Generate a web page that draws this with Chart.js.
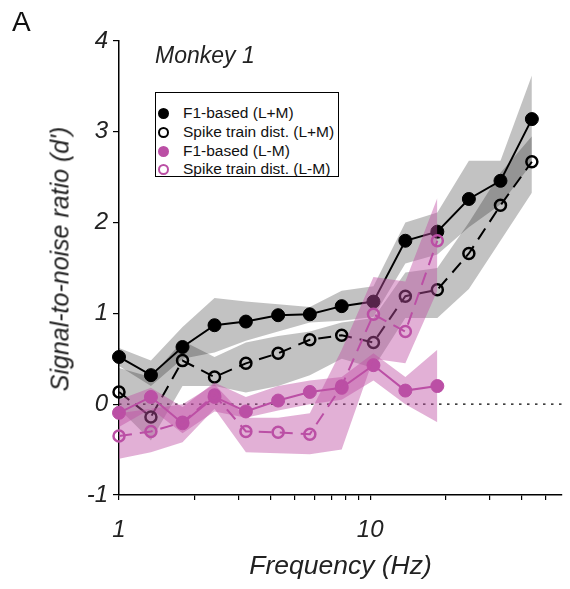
<!DOCTYPE html>
<html>
<head>
<meta charset="utf-8">
<script src="https://cdn.jsdelivr.net/npm/chart.js@4.4.1/dist/chart.umd.min.js"></script>
<style>
  body { margin: 0; background: #fff; }
  #wrap { position: relative; width: 570px; height: 589px; font-family: "Liberation Sans", Arial, sans-serif; color: #222; }
  canvas { position: absolute; left: 0; top: 0; }
  .panel { position: absolute; left: 12px; top: 6px; font-size: 28px; color: #111; }
  .monkey { position: absolute; left: 155px; top: 42px; font-size: 23px; font-style: italic; }
  .ytitle { position: absolute; left: 60px; top: 259px; transform: translate(-50%, -50%) rotate(-90deg);
            font-size: 25px; font-style: italic; white-space: nowrap; }
  #legend { position: absolute; left: 155px; top: 92px; width: 184px; height: 85px; border: 1px solid #000;
            box-sizing: border-box; font-size: 15.5px; padding-top: 11px; background: #fff; }
  #legend div { height: 18.8px; line-height: 18.8px; white-space: nowrap; color: #111; }
  #legend span { display: inline-block; width: 11px; height: 11px; border-radius: 50%; box-sizing: border-box;
                 margin: 0 14px 0 2px; vertical-align: -1px; }
</style>
</head>
<body>
<div id="wrap">
  <canvas id="chart" width="570" height="589"></canvas>
  <div class="panel">A</div>
  <div class="monkey">Monkey 1</div>
  <div class="ytitle">Signal-to-noise ratio (d')</div>
  <div id="legend"></div>
</div>
<script>
// stimulus frequencies (Hz)
const freq = [1, 1.34, 1.79, 2.4, 3.2, 4.3, 5.75, 7.7, 10.3, 13.8, 18.5, 24.7, 33, 44];

// L+M, F1-based
const f1LM   = [0.52, 0.32, 0.63, 0.87, 0.91, 0.98, 0.99, 1.08, 1.13, 1.80, 1.90, 2.26, 2.46, 3.14];
const f1LMHi = [0.62, 0.48, 0.85, 1.17, 1.13, 1.10, 1.07, 1.25, 1.30, 2.00, 2.11, 2.68, 2.68, 3.62];
const f1LMLo = [0.42, 0.20, 0.50, 0.57, 0.70, 0.80, 0.90, 0.92, 0.96, 1.55, 1.65, 1.95, 2.20, 2.65];

// L+M, spike train distance
const stLM   = [0.135, -0.14, 0.48, 0.30, 0.45, 0.56, 0.71, 0.76, 0.68, 1.19, 1.26, 1.66, 2.19, 2.67];
const stLMHi = [0.40, 0.30, 0.70, 0.52, 0.68, 0.75, 0.80, 0.90, 0.95, 1.45, 1.50, 2.00, 2.55, 2.95];
const stLMLo = [-0.05, -0.40, 0.20, 0.20, 0.13, 0.20, 0.32, 0.50, 0.40, 0.95, 0.95, 1.27, 1.80, 2.33];

// L-M, F1-based
const f1LmM   = [-0.095, 0.08, -0.21, 0.08, -0.08, 0.04, 0.135, 0.18, 0.43, 0.15, 0.20];
const f1LmMHi = [0.05, 0.18, -0.03, 0.24, 0.08, 0.20, 0.26, 0.30, 0.56, 0.30, 0.60];
const f1LmMLo = [-0.25, -0.05, -0.32, -0.08, -0.15, -0.07, 0.00, 0.05, 0.26, 0.00, -0.20];

// L-M, spike train distance
const stLmM   = [-0.35, -0.30, -0.20, 0.10, -0.30, -0.31, -0.33, 0.20, 0.99, 0.80, 1.80];
const stLmMHi = [-0.10, -0.05, 0.00, 0.22, -0.15, -0.15, -0.10, 0.60, 1.40, 1.35, 2.27];
const stLmMLo = [-0.60, -0.53, -0.42, -0.05, -0.53, -0.54, -0.55, -0.50, 0.50, 0.45, 1.25];

const xTicks = [1, 2, 3, 4, 5, 6, 7, 8, 9, 10, 20, 30, 40, 50];
const xLabels = [1, 10];
const yTicks = [-1, 0, 1, 2, 3, 4];

const legendItems = [
  { label: 'F1-based (L+M)', color: '#000', filled: true },
  { label: 'Spike train dist. (L+M)', color: '#000', filled: false },
  { label: 'F1-based (L-M)', color: '#bb4fa5', filled: true },
  { label: 'Spike train dist. (L-M)', color: '#bb4fa5', filled: false },
];

const BLACK = '#000';
const PINK = '#bb4fa5';
const GRAY_BAND = 'rgba(0,0,0,0.24)';
const PINK_BAND = 'rgba(190,80,165,0.45)';
const NONE = 'rgba(0,0,0,0)';

function pts(vals) { return vals.map((v, i) => ({ x: freq[i], y: v })); }

function band(hi, lo, color, order) {
  return [
    { data: pts(hi), fill: '+1', backgroundColor: color, borderColor: NONE, borderWidth: 1, pointRadius: 0, order },
    { data: pts(lo), fill: false, borderColor: NONE, borderWidth: 1, pointRadius: 0, order },
  ];
}

function series(vals, color, filled, order) {
  return {
    data: pts(vals), fill: false, order, clip: false,
    borderColor: color, borderWidth: 2, borderDash: filled ? [] : [13, 8],
    pointRadius: filled ? 6.5 : 5.5,
    pointBorderWidth: filled ? 1 : 2.5,
    pointBorderColor: color,
    pointBackgroundColor: filled ? color : NONE,
  };
}

// legend
const lg = document.getElementById('legend');
legendItems.forEach(it => {
  const row = document.createElement('div');
  const dot = document.createElement('span');
  dot.style.border = '2px solid ' + it.color;
  dot.style.background = it.filled ? it.color : 'transparent';
  row.appendChild(dot);
  row.appendChild(document.createTextNode(it.label));
  lg.appendChild(row);
});

const datasets = [
  { data: [{ x: 1, y: 0 }, { x: 58, y: 0 }], borderColor: BLACK, borderWidth: 1.2, borderDash: [2.5, 5.5],
    pointRadius: 0, fill: false, order: 20 },
  ...band(f1LMHi, f1LMLo, GRAY_BAND, 9),
  series(f1LM, BLACK, true, 8),
  ...band(stLMHi, stLMLo, GRAY_BAND, 7),
  series(stLM, BLACK, false, 6),
  ...band(f1LmMHi, f1LmMLo, PINK_BAND, 5),
  series(f1LmM, PINK, true, 4),
  ...band(stLmMHi, stLmMLo, PINK_BAND, 3),
  series(stLmM, PINK, false, 2),
];

new Chart(document.getElementById('chart'), {
  type: 'line',
  data: { datasets },
  options: {
    responsive: false,
    animation: false,
    layout: { padding: { top: 41, right: 0, left: 0, bottom: 0 } },
    plugins: {
      legend: { display: false },
      tooltip: { enabled: false },
      filler: { drawTime: 'beforeDatasetDraw' },
    },
    scales: {
      x: {
        type: 'logarithmic', min: 1, max: 58,
        afterFit: s => { s.height = 94; },
        afterBuildTicks: s => { s.ticks = xTicks.map(v => ({ value: v })); },
        border: { color: BLACK, width: 1.5 },
        grid: { drawOnChartArea: false, drawTicks: true, tickLength: 5, color: BLACK, lineWidth: 1.2 },
        ticks: {
          autoSkip: false, maxRotation: 0, padding: 16, color: '#222',
          font: { family: 'Liberation Sans', size: 24, style: 'italic' },
          callback: v => xLabels.includes(v) ? String(v) : '',
        },
        title: {
          display: true, text: 'Frequency (Hz)', color: '#222',
          font: { family: 'Liberation Sans', size: 26.5, style: 'italic' },
          padding: { top: 0, bottom: 6 },
        },
      },
      y: {
        min: -1, max: 4,
        afterFit: s => { s.width = 119; },
        afterBuildTicks: s => { s.ticks = yTicks.map(v => ({ value: v })); },
        border: { color: BLACK, width: 1.5 },
        grid: { drawOnChartArea: false, drawTicks: true, tickLength: 6, color: BLACK, lineWidth: 1.2 },
        ticks: {
          padding: 5, color: '#222',
          font: { family: 'Liberation Sans', size: 24, style: 'italic' },
        },
      },
    },
  },
});
</script>
</body>
</html>
